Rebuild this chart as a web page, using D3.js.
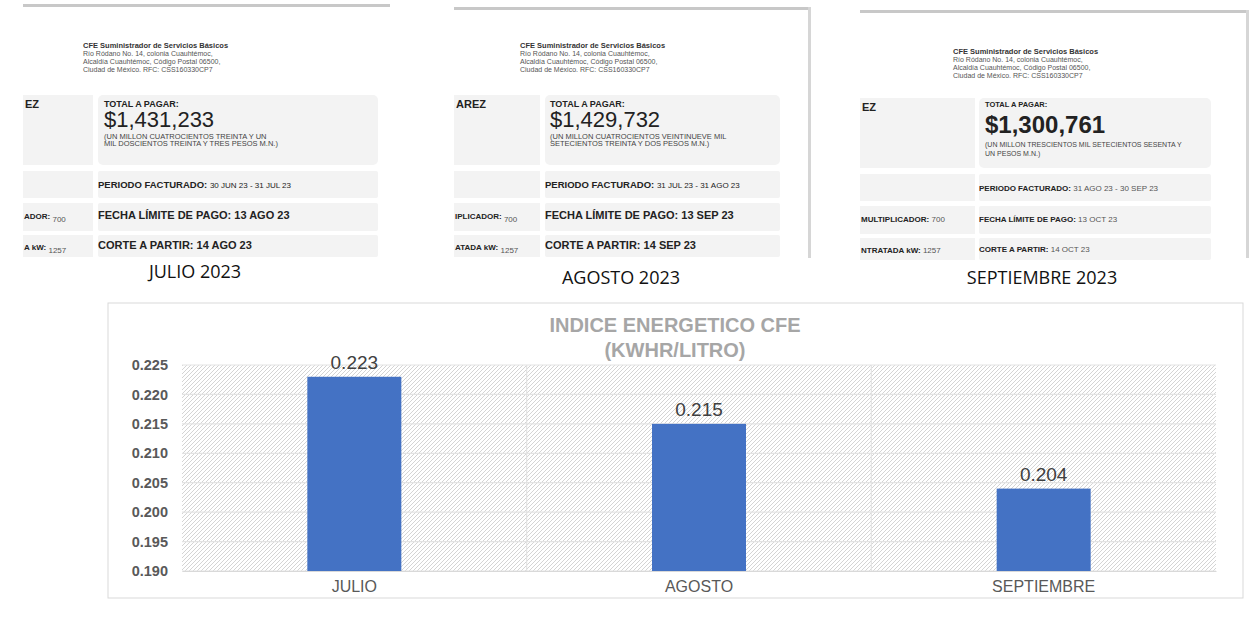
<!DOCTYPE html>
<html><head><meta charset="utf-8">
<script src="https://cdn.jsdelivr.net/npm/d3@7"></script>
<style>body{margin:0;background:#fff}svg{display:block}text{font-family:"Liberation Sans",Arial,sans-serif}</style>
</head><body><svg id="c" width="1256" height="618"></svg>
<script>
// chart data
const categories = ["JULIO", "AGOSTO", "SEPTIEMBRE"];
const indice = [0.223, 0.215, 0.204];
const yTicks = [0.190, 0.195, 0.200, 0.205, 0.210, 0.215, 0.220, 0.225];

// bill snippets
const billLabels = ["JULIO 2023", "AGOSTO 2023", "SEPTIEMBRE 2023"];
const totals = ["$1,431,233", "$1,429,732", "$1,300,761"];
const totalWords = [
  ["(UN MILLON CUATROCIENTOS TREINTA Y UN", "MIL DOSCIENTOS TREINTA Y TRES PESOS  M.N.)"],
  ["(UN MILLON CUATROCIENTOS VEINTINUEVE MIL", "SETECIENTOS TREINTA Y DOS PESOS  M.N.)"],
  ["(UN MILLON TRESCIENTOS  MIL SETECIENTOS SESENTA Y", "UN PESOS  M.N.)"]];
const periods = ["30 JUN 23 - 31 JUL 23", "31 JUL 23 - 31 AGO 23", "31 AGO 23 - 30 SEP 23"];
const dueDates = ["13 AGO 23", "13 SEP 23", "13 OCT 23"];
const cutDates = ["14 AGO 23", "14 SEP 23", "14 OCT 23"];
const leftName = ["EZ", "AREZ", "EZ"];
const leftMult = ["ADOR:", "IPLICADOR:", "MULTIPLICADOR:"];
const leftKw = ["A kW:", "ATADA kW:", "NTRATADA kW:"];
const cfeLines = ["Río Ródano No. 14, colonia Cuauhtémoc,", "Alcaldía Cuauhtémoc, Código Postal 06500,", "Ciudad de México. RFC: CSS160330CP7"];

const svg = d3.select("#c");

// panel geometry
const panels = [
  {x0: 23, x1: 390, lx: 93, rx: 98, rw: 280, head: 83, amt: 104, bold: false, cap: 195, top: 8},
  {x0: 454, x1: 808, lx: 540, rx: 545, rw: 235, head: 520, amt: 550, bold: false, cap: 621, top: 11},
  {x0: 860, x1: 1246, lx: 975, rx: 979, rw: 232, head: 953, amt: 985, bold: true, cap: 1042, top: 14}
];

panels.forEach((p, i) => {
  const g = svg.append("g");
  g.append("rect").attr("x", p.x0).attr("y", p.top - 4).attr("width", p.x1 - p.x0).attr("height", 3).attr("fill", "#c8c8c8");
  if (i > 0) g.append("rect").attr("x", p.x1).attr("y", p.top - 4).attr("width", 3).attr("height", 262 - p.top).attr("fill", "#d6d6d6");
  g.append("text").attr("x", p.head).attr("y", 48 + (i == 2 ? 6 : 0)).attr("font-size", 7.5).attr("font-weight", "bold").attr("fill", "#333").text("CFE Suministrador de Servicios Básicos");
  cfeLines.forEach((t, k) => g.append("text").attr("x", p.head).attr("y", 56 + k * 8 + (i == 2 ? 6 : 0)).attr("font-size", 7).attr("fill", "#555").text(t));
  const boxes = [[95, 70], [171, 27], [203, 28], [235, 22]];
  boxes.forEach(([y, h], k) => {
    const dy = i == 2 ? 3 : 0;
    g.append("rect").attr("x", p.x0).attr("y", y + dy).attr("width", p.lx - p.x0).attr("height", h).attr("fill", "#f3f3f3");
    g.append("rect").attr("x", p.rx).attr("y", y + dy).attr("width", p.rw).attr("height", h).attr("rx", k == 0 ? 5 : 2).attr("fill", "#f3f3f3");
  });
  const dy = i == 2 ? 3 : 0;
  g.append("text").attr("x", p.x0 + 2).attr("y", 108 + dy).attr("font-size", 11).attr("font-weight", 900).attr("fill", "#222").text(leftName[i]);
  g.append("text").attr("x", p.amt).attr("y", (p.bold ? 104 : 107) + dy).attr("font-size", p.bold ? 7.5 : 9).attr("font-weight", 900).attr("fill", "#222").text("TOTAL A PAGAR:");
  g.append("text").attr("x", p.amt).attr("y", (p.bold ? 130 : 127) + dy).attr("font-size", p.bold ? 24 : 22).attr("font-weight", p.bold ? "bold" : "normal").attr("fill", "#222").text(totals[i]);
  totalWords[i].forEach((t, k) => g.append("text").attr("x", p.amt).attr("y", (p.bold ? 144 : 139) + k * (p.bold ? 9 : 7) + dy).attr("font-size", p.bold ? 7 : 7.5).attr("fill", "#444").text(t));
  const fs = p.bold ? 8 : 9.5;
  const rows = [["PERIODO FACTURADO: ", periods[i], 188], ["FECHA LÍMITE DE PAGO: ", dueDates[i], 219], ["CORTE A PARTIR: ", cutDates[i], 249]];
  rows.forEach(([lab, val, y], k) => {
    const t = g.append("text").attr("x", p.rx).attr("y", y + dy).attr("fill", "#222");
    const big = !p.bold && k > 0;
    t.append("tspan").attr("font-weight", 900).attr("font-size", big ? 11 : fs).text(lab);
    t.append("tspan").attr("font-size", big ? 11 : 8).attr("font-weight", big ? 900 : "normal").attr("fill", p.bold ? "#555" : "#222").text(val);
  });
  [[leftMult[i], "700", 219], [leftKw[i], "1257", 250]].forEach(([lab, val, y]) => {
    const t = g.append("text").attr("x", p.x0 + 1).attr("y", y + dy).attr("fill", "#222").attr("font-size", 8);
    t.append("tspan").attr("font-weight", 900).text(lab + " ");
    t.append("tspan").attr("fill", "#555").attr("dy", p.bold ? 0 : 3).text(val);
  });
  svg.append("text").attr("x", p.cap).attr("y", i == 0 ? 278 : 284).attr("text-anchor", "middle")
    .style("font-family", "'Open Sans', sans-serif").attr("font-size", 18).attr("fill", "#111").text(billLabels[i]);
});

// bar chart
const box = {x: 108, y: 303, w: 1135, h: 295};
svg.append("rect").attr("x", box.x).attr("y", box.y).attr("width", box.w).attr("height", box.h).attr("fill", "#fff").attr("stroke", "#d9d9d9");

const defs = svg.append("defs");
const pat = defs.append("pattern").attr("id", "hatch").attr("patternUnits", "userSpaceOnUse").attr("width", 4).attr("height", 4);
pat.append("rect").attr("width", 4).attr("height", 4).attr("fill", "#fff");
pat.append("path").attr("d", "M-1,1 l2,-2 M0,4 l4,-4 M3,5 l2,-2").attr("stroke", "#cfcfcf").attr("stroke-width", 0.9);

const m = {l: 182, r: 1216, t: 365, b: 571};
const x = d3.scaleBand().domain(categories).range([m.l, m.r]).paddingInner(0).paddingOuter(0);
const y = d3.scaleLinear().domain([0.190, 0.225]).range([m.b, m.t]);

svg.append("rect").attr("x", m.l).attr("y", m.t).attr("width", m.r - m.l).attr("height", m.b - m.t).attr("fill", "url(#hatch)");
svg.append("g").selectAll("line").data(yTicks).join("line")
  .attr("x1", m.l).attr("x2", m.r).attr("y1", d => y(d)).attr("y2", d => y(d)).attr("stroke", "#e3e3e3").attr("stroke-width", 1.2);
svg.append("g").selectAll("line").data(categories.slice(1)).join("line")
  .attr("x1", d => x(d)).attr("x2", d => x(d)).attr("y1", m.t).attr("y2", m.b).attr("stroke", "#e3e3e3").attr("stroke-width", 1.2);

const yAxis = svg.append("g").attr("transform", `translate(${m.l},0)`)
  .call(d3.axisLeft(y).tickValues(yTicks).tickFormat(d3.format(".3f")).tickSize(0).tickPadding(14));
yAxis.select(".domain").remove();
yAxis.selectAll("text").attr("font-size", 14.5).attr("font-weight", "bold").attr("fill", "#595959").attr("font-family", "Liberation Sans");

const bw = 94;
svg.append("g").selectAll("rect").data(indice).join("rect")
  .attr("x", (d, i) => x(categories[i]) + x.bandwidth() / 2 - bw / 2).attr("width", bw)
  .attr("y", d => y(d)).attr("height", d => m.b - y(d)).attr("fill", "#4472c4");
svg.append("g").selectAll("text").data(indice).join("text")
  .attr("x", (d, i) => x(categories[i]) + x.bandwidth() / 2).attr("y", d => y(d) - 8)
  .attr("text-anchor", "middle").attr("font-size", 19).attr("fill", "#404040").text(d => d3.format(".3f")(d));

const xAxis = svg.append("g").attr("transform", `translate(0,${m.b})`).call(d3.axisBottom(x).tickSize(0).tickPadding(10));
xAxis.select(".domain").attr("stroke", "#d9d9d9");
xAxis.selectAll("text").attr("font-size", 16).attr("fill", "#595959").attr("font-family", "Liberation Sans");

svg.append("text").attr("x", 675).attr("y", 332).attr("text-anchor", "middle").attr("font-size", 20).attr("font-weight", "bold").attr("fill", "#a6a6a6").text("INDICE ENERGETICO CFE");
svg.append("text").attr("x", 675).attr("y", 357).attr("text-anchor", "middle").attr("font-size", 20).attr("font-weight", "bold").attr("fill", "#a6a6a6").text("(KWHR/LITRO)");
</script></body></html>
